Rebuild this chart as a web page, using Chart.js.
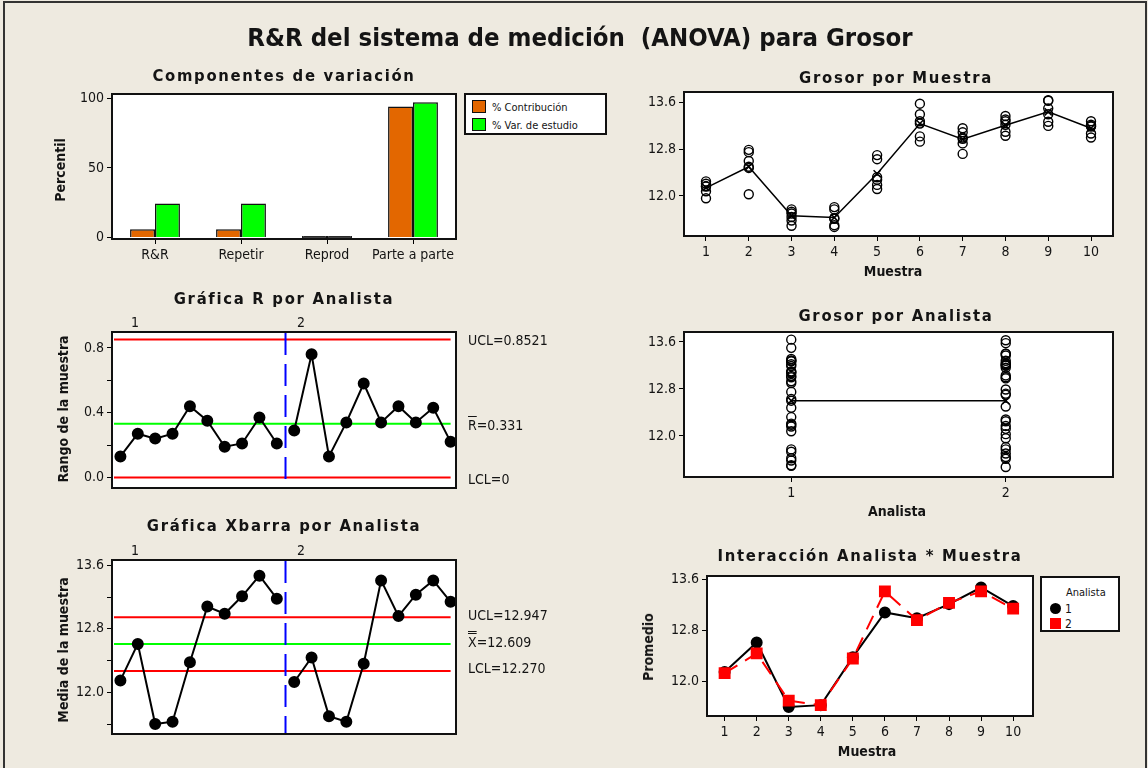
<!DOCTYPE html>
<html>
<head>
<meta charset="utf-8">
<script src="https://cdn.jsdelivr.net/npm/chart.js@4.4.0/dist/chart.umd.min.js"></script>
<style>
  body { margin: 0; width: 1148px; height: 768px; overflow: hidden; position: relative; background: #eeeae0;
         font-family: "DejaVu Sans Condensed", "DejaVu Sans", sans-serif; color: #141414; }
  canvas { position: absolute; left: 0; top: 0; }
  .frame { position: absolute; left: 3px; top: 1px; width: 1140px; height: 800px; border: 2px solid #333; }
  .c { position: absolute; white-space: nowrap; transform: translate(-50%, -50%); }
  .l { position: absolute; white-space: nowrap; transform: translate(0, -50%); font-size: 14px; }
  .main { font-size: 25.5px; font-weight: bold; }
  .ptitle { font-size: 16.5px; font-weight: bold; letter-spacing: 1.7px; }
  .axt { font-size: 14px; font-weight: bold; }
  .rot { transform: translate(-50%, -50%) rotate(-90deg); }
  .grp { font-size: 14px; }
  .legend { position: absolute; background: #fff; border: 2px solid #111; box-sizing: border-box; }
  .sw { position: absolute; width: 14px; height: 13px; border: 1.5px solid #111; box-sizing: border-box; }
  .lt { position: absolute; font-size: 11px; white-space: nowrap; transform: translate(0, -50%); }
  .ob { text-decoration: overline; }
  .ob2 { text-decoration: overline double; }
</style>
</head>
<body>
<div class="frame"></div>
<canvas id="c1" width="1148" height="768"></canvas>
<canvas id="c2" width="1148" height="768"></canvas>
<canvas id="c3" width="1148" height="768"></canvas>
<canvas id="c4" width="1148" height="768"></canvas>
<canvas id="c5" width="1148" height="768"></canvas>
<canvas id="c6" width="1148" height="768"></canvas>

<div class="c main" style="left:580px;top:37px">R&amp;R del sistema de medición&nbsp; (ANOVA) para Grosor</div>

<div class="c ptitle" style="left:284px;top:75px">Componentes de variación</div>
<div class="c ptitle" style="left:896px;top:77px">Grosor por Muestra</div>
<div class="c ptitle" style="left:284px;top:298px">Gráfica R por Analista</div>
<div class="c ptitle" style="left:896px;top:315px">Grosor por Analista</div>
<div class="c ptitle" style="left:284px;top:525px">Gráfica Xbarra por Analista</div>
<div class="c ptitle" style="left:870px;top:555px">Interacción Analista * Muestra</div>

<div class="c axt rot" style="left:60px;top:170px">Percentil</div>
<div class="c axt rot" style="left:63px;top:409px">Rango de la muestra</div>
<div class="c axt rot" style="left:63px;top:650px">Media de la muestra</div>
<div class="c axt rot" style="left:648px;top:647px">Promedio</div>
<div class="c axt" style="left:893px;top:271px">Muestra</div>
<div class="c axt" style="left:897px;top:511px">Analista</div>
<div class="c axt" style="left:867px;top:751px">Muestra</div>

<div class="c grp" style="left:135px;top:322px">1</div>
<div class="c grp" style="left:301px;top:322px">2</div>
<div class="c grp" style="left:135px;top:550px">1</div>
<div class="c grp" style="left:301px;top:550px">2</div>

<div class="l" style="left:468px;top:340px">UCL=0.8521</div>
<div class="l" style="left:468px;top:425px"><span class="ob">R</span>=0.331</div>
<div class="l" style="left:468px;top:479px">LCL=0</div>
<div class="l" style="left:468px;top:615px">UCL=12.947</div>
<div class="l" style="left:468px;top:642px"><span class="ob2">X</span>=12.609</div>
<div class="l" style="left:468px;top:668px">LCL=12.270</div>

<div class="legend" style="left:464px;top:93px;width:143px;height:42px">
  <div class="sw" style="left:6px;top:5px;background:#e36700"></div>
  <div class="lt" style="left:26px;top:12px">% Contribución</div>
  <div class="sw" style="left:6px;top:23px;background:#00ff00"></div>
  <div class="lt" style="left:26px;top:30px">% Var. de estudio</div>
</div>

<div class="legend" style="left:1040px;top:576px;width:80px;height:56px">
  <div class="lt" style="left:24px;top:14px">Analista</div>
  <div style="position:absolute;left:8px;top:25px;width:11px;height:11px;border-radius:50%;background:#000"></div>
  <div class="lt" style="left:23px;top:31px;font-size:12px">1</div>
  <div style="position:absolute;left:8px;top:40px;width:11px;height:11px;background:#ff0000"></div>
  <div class="lt" style="left:23px;top:46px;font-size:12px">2</div>
</div>

<script>
// ---- data ----
const componentLabels = ["R&R", "Repetir", "Reprod", "Parte a parte"];
const pctContribution = [6.0, 6.0, 0, 94.0];
const pctStudyVar = [24.5, 24.5, 0, 97.0];
const pctTicks = [0, 50, 100];

const samples = [1, 2, 3, 4, 5, 6, 7, 8, 9, 10];
const analysts = [1, 2];

// three trials per sample, analyst 1 and analyst 2
const grosorA1 = [
  [12.08, 12.16, 12.21], [12.48, 12.60, 12.75], [11.49, 11.58, 11.73], [11.50, 11.62, 11.77], [12.19, 12.32, 12.63],
  [12.93, 13.02, 13.28], [12.90, 13.00, 13.09], [13.10, 13.22, 13.31], [13.27, 13.50, 13.64], [13.07, 13.19, 13.28]
];
const grosorA2 = [
  [11.96, 12.17, 12.25], [12.03, 12.50, 12.79], [11.64, 11.70, 11.77], [11.47, 11.61, 11.81], [12.12, 12.28, 12.70],
  [13.24, 13.40, 13.58], [12.72, 12.98, 13.16], [13.03, 13.28, 13.37], [13.20, 13.40, 13.63], [13.00, 13.20, 13.22]
];
const sampleMeans = [12.14, 12.50, 11.66, 11.63, 12.38, 13.24, 12.97, 13.21, 13.44, 13.16];
const analystMeans = [12.60, 12.60];

const rangeA1 = [0.13, 0.27, 0.24, 0.27, 0.44, 0.35, 0.19, 0.21, 0.37, 0.21];
const rangeA2 = [0.29, 0.76, 0.13, 0.34, 0.58, 0.34, 0.44, 0.34, 0.43, 0.22];
const xbarA1 = [12.15, 12.61, 11.60, 11.63, 12.38, 13.08, 12.99, 13.21, 13.47, 13.18];
const xbarA2 = [12.13, 12.44, 11.70, 11.63, 12.36, 13.41, 12.96, 13.23, 13.41, 13.14];

const rLimits = { ucl: 0.8521, center: 0.331, lcl: 0 };
const xbarLimits = { ucl: 12.947, center: 12.609, lcl: 12.270 };

const rTicks = [0, 0.2, 0.4, 0.6, 0.8];
const rTickLabels = [0, 0.4, 0.8];
const xbarTicks = [11.6, 12.0, 12.4, 12.8, 13.2, 13.6];
const grosorTickLabels = [12.0, 12.8, 13.6];

// ---- layout ----
const W = 1148, H = 768;
const AXIS_W = 50, AXIS_H = 28;
const FONT = "'DejaVu Sans Condensed', 'DejaVu Sans', sans-serif";
const INK = "#141414";
const RED = "#ff0000", GREEN = "#00ff00", BLUE = "#0000ff", ORANGE = "#e36700";

const box1 = { l: 112, t: 94, r: 456, b: 239 };
const box2 = { l: 684, t: 92, r: 1113, b: 236 };
const box3 = { l: 112, t: 332, r: 456, b: 488 };
const box4 = { l: 112, t: 560, r: 456, b: 734 };
const box5 = { l: 684, t: 332, r: 1113, b: 477 };
const box6 = { l: 707, t: 576, r: 1033, b: 716 };

function pad(box) {
  return { left: box.l - AXIS_W, top: box.t, right: W - box.r, bottom: H - box.b - AXIS_H };
}

const tickGrid = { drawOnChartArea: false, drawTicks: true, tickLength: 5, tickColor: "#000", tickWidth: 1 };

function yAxis(min, max, values, labeled, digits) {
  return {
    type: "linear", min, max,
    afterFit: s => { s.width = AXIS_W; },
    afterBuildTicks: s => { s.ticks = values.map(v => ({ value: v })); },
    grid: tickGrid,
    border: { display: false },
    ticks: { color: INK, font: { family: FONT, size: 14 }, padding: 3,
             callback: v => labeled.includes(v) ? v.toFixed(digits) : "" }
  };
}

function xAxis(min, max, values) {
  const show = values.length > 0;
  return {
    type: "linear", min, max,
    afterFit: s => { s.height = AXIS_H; },
    afterBuildTicks: s => { s.ticks = values.map(v => ({ value: v })); },
    grid: show ? tickGrid : { display: false },
    border: { display: false },
    ticks: { display: show, color: INK, font: { family: FONT, size: 14 }, padding: 3, maxRotation: 0,
             callback: v => String(v) }
  };
}

const framePlugin = {
  id: "frameBox",
  beforeDraw(chart) {
    const { ctx, chartArea: a } = chart;
    ctx.save();
    ctx.fillStyle = "#fff";
    ctx.fillRect(a.left, a.top, a.width, a.height);
    ctx.restore();
  },
  afterDraw(chart) {
    const { ctx, chartArea: a } = chart;
    ctx.save();
    ctx.strokeStyle = "#111";
    ctx.lineWidth = 2;
    ctx.strokeRect(a.left, a.top, a.width, a.height);
    ctx.restore();
  }
};

// control limits + analyst split, drawn behind the data
function limitsPlugin(limits, lastX, splitAt) {
  return {
    id: "limits",
    beforeDatasetsDraw(chart) {
      const { ctx, chartArea: a, scales: { x, y } } = chart;
      const lines = [[limits.ucl, RED], [limits.lcl, RED], [limits.center, GREEN]];
      ctx.save();
      ctx.lineWidth = 2;
      lines.forEach(([v, col]) => {
        const py = y.getPixelForValue(v);
        ctx.strokeStyle = col;
        ctx.beginPath();
        ctx.moveTo(a.left + 2, py);
        ctx.lineTo(x.getPixelForValue(lastX), py);
        ctx.stroke();
      });
      const px = x.getPixelForValue(splitAt);
      ctx.strokeStyle = BLUE;
      ctx.setLineDash([22, 9]);
      ctx.beginPath();
      ctx.moveTo(px, a.top + 1);
      ctx.lineTo(px, a.bottom - 1);
      ctx.stroke();
      ctx.restore();
    }
  };
}

const baseOpts = {
  responsive: false,
  animation: false,
  events: [],
  plugins: { legend: { display: false }, tooltip: { enabled: false } }
};

// ---- 1. Componentes de variación ----
// Reprod is zero: Minitab shows it as a flat black bar on the axis
const contribColors = [ORANGE, ORANGE, "#111", ORANGE];
const studyColors = [GREEN, GREEN, "#111", GREEN];
new Chart(document.getElementById("c1"), {
  type: "bar",
  data: {
    labels: componentLabels,
    datasets: [
      { label: "% Contribución", data: pctContribution, backgroundColor: contribColors, borderColor: "#111",
        borderWidth: 1.5, barPercentage: 1, categoryPercentage: 0.58, minBarLength: 3 },
      { label: "% Var. de estudio", data: pctStudyVar, backgroundColor: studyColors, borderColor: "#111",
        borderWidth: 1.5, barPercentage: 1, categoryPercentage: 0.58, minBarLength: 3 }
    ]
  },
  options: {
    ...baseOpts,
    layout: { padding: pad(box1) },
    scales: {
      x: {
        afterFit: s => { s.height = AXIS_H; },
        grid: { ...tickGrid, offset: false },
        border: { display: false },
        ticks: { color: INK, font: { family: FONT, size: 14 }, padding: 3, maxRotation: 0 }
      },
      y: yAxis(-1, 103, pctTicks, pctTicks, 0)
    }
  },
  plugins: [framePlugin]
});

// ---- 2. Grosor por Muestra ----
const bySample = [];
samples.forEach((s, i) => {
  grosorA1[i].concat(grosorA2[i]).forEach(v => bySample.push({ x: s, y: v }));
});
new Chart(document.getElementById("c2"), {
  type: "scatter",
  data: {
    datasets: [
      { data: samples.map((s, i) => ({ x: s, y: sampleMeans[i] })), showLine: true, borderColor: "#000",
        borderWidth: 1.5, pointStyle: "crossRot", pointRadius: 5, pointBorderWidth: 1.5, order: 0 },
      { data: bySample, pointStyle: "circle", pointRadius: 4.5, borderColor: "#000", borderWidth: 1.4,
        backgroundColor: "rgba(0,0,0,0)", order: 1 }
    ]
  },
  options: {
    ...baseOpts,
    layout: { padding: pad(box2) },
    scales: { x: xAxis(0.486, 10.514, samples), y: yAxis(11.315, 13.78, grosorTickLabels, grosorTickLabels, 1) }
  },
  plugins: [framePlugin]
});

// ---- 3. Gráfica R por Analista ----
const subA1 = samples;
const subA2 = samples.map(s => s + samples.length);
const seriesLine = (xs, ys) => ({
  data: xs.map((x, i) => ({ x, y: ys[i] })), showLine: true, borderColor: "#000", borderWidth: 2,
  pointStyle: "circle", pointRadius: 5, backgroundColor: "#000", pointBorderColor: "#000"
});
new Chart(document.getElementById("c3"), {
  type: "scatter",
  data: { datasets: [seriesLine(subA1, rangeA1), seriesLine(subA2, rangeA2)] },
  options: {
    ...baseOpts,
    layout: { padding: pad(box3) },
    scales: { x: xAxis(0.516, 20.31, []), y: yAxis(-0.065, 0.898, rTicks, rTickLabels, 1) }
  },
  plugins: [framePlugin, limitsPlugin(rLimits, subA2[subA2.length - 1], 10.5)]
});

// ---- 4. Gráfica Xbarra por Analista ----
new Chart(document.getElementById("c4"), {
  type: "scatter",
  data: { datasets: [seriesLine(subA1, xbarA1), seriesLine(subA2, xbarA2)] },
  options: {
    ...baseOpts,
    layout: { padding: pad(box4) },
    scales: { x: xAxis(0.516, 20.31, []), y: yAxis(11.475, 13.667, xbarTicks, grosorTickLabels, 1) }
  },
  plugins: [framePlugin, limitsPlugin(xbarLimits, subA2[subA2.length - 1], 10.5)]
});

// ---- 5. Grosor por Analista ----
const byAnalyst = [];
grosorA1.forEach(trials => trials.forEach(v => byAnalyst.push({ x: analysts[0], y: v })));
grosorA2.forEach(trials => trials.forEach(v => byAnalyst.push({ x: analysts[1], y: v })));
new Chart(document.getElementById("c5"), {
  type: "scatter",
  data: {
    datasets: [
      { data: analysts.map((a, i) => ({ x: a, y: analystMeans[i] })), showLine: true, borderColor: "#000",
        borderWidth: 1.5, pointStyle: "crossRot", pointRadius: 5, pointBorderWidth: 1.5, order: 0 },
      { data: byAnalyst, pointStyle: "circle", pointRadius: 4.5, borderColor: "#000", borderWidth: 1.4,
        backgroundColor: "rgba(0,0,0,0)", order: 1 }
    ]
  },
  options: {
    ...baseOpts,
    layout: { padding: pad(box5) },
    scales: { x: xAxis(0.5, 2.5, analysts), y: yAxis(11.30, 13.77, grosorTickLabels, grosorTickLabels, 1) }
  },
  plugins: [framePlugin]
});

// ---- 6. Interacción Analista * Muestra ----
new Chart(document.getElementById("c6"), {
  type: "scatter",
  data: {
    datasets: [
      { data: samples.map((s, i) => ({ x: s, y: xbarA1[i] })), showLine: true, borderColor: "#000", borderWidth: 2,
        pointStyle: "circle", pointRadius: 5, backgroundColor: "#000", order: 1 },
      { data: samples.map((s, i) => ({ x: s, y: xbarA2[i] })), showLine: true, borderColor: RED, borderWidth: 2,
        borderDash: [15, 9], pointStyle: "rect", pointRadius: 7, backgroundColor: RED, pointBorderColor: RED, order: 0 }
    ]
  },
  options: {
    ...baseOpts,
    layout: { padding: pad(box6) },
    scales: { x: xAxis(0.45, 10.62, samples), y: yAxis(11.46, 13.65, grosorTickLabels, grosorTickLabels, 1) }
  },
  plugins: [framePlugin]
});
</script>
</body>
</html>
